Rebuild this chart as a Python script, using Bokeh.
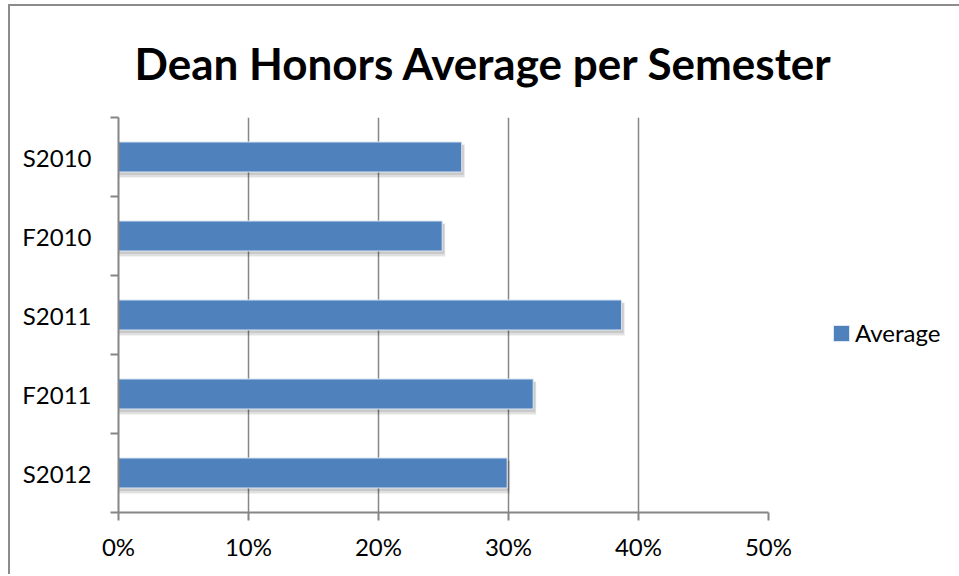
from bokeh.plotting import figure
from bokeh.models import (Range1d, FixedTicker, NumeralTickFormatter, Legend, LegendItem,
                          ColumnDataSource, Title)
from bokeh.embed import file_html
from bokeh.resources import INLINE

# ---- data ----
categories = ["S2010", "F2010", "S2011", "F2011", "S2012"]
average = [0.264, 0.249, 0.387, 0.319, 0.299]
x_ticks = [0.0, 0.1, 0.2, 0.3, 0.4, 0.5]
title_text = "Dean Honors Average per Semester"
series_name = "Average"

n = len(categories)
ys = [n - i - 0.5 for i in range(n)]  # top-to-bottom order

FONT = "Lato"
GRAY = "#868686"
BAR = "#4F81BD"

FRAME_W, FRAME_H = 650, 395
p = figure(width=950, height=570, output_backend="svg", toolbar_location=None,
           x_range=Range1d(0, 0.5), y_range=Range1d(0, n),
           frame_width=FRAME_W, frame_height=FRAME_H,
           min_border_left=110, min_border_right=190, min_border_top=113, min_border_bottom=62,
           border_fill_color=None, background_fill_color="white", outline_line_color=None)
p.styles = {"margin-left": "8px", "margin-top": "4px",
            "box-shadow": "inset 2px 2px 0 0 #8c8c8c", "background": "white"}

p.title = Title(text=title_text, text_font=FONT, text_font_style="bold", text_font_size="44px",
                align="left", offset=16, standoff=58, text_color="black")

src = ColumnDataSource(dict(y=ys, right=average, cat=categories))

# soft drop shadow (style offsets in pixels converted to data units)
px_x = 0.5 / FRAME_W
px_y = n / FRAME_H
bh = 0.38
for dx, dy, grow, a in [(3, -4, 4, 0.05), (3, -4, 2, 0.07), (2, -3, 0, 0.10)]:
    sh = ColumnDataSource(dict(y=[v + dy * px_y for v in ys],
                               right=[v + dx * px_x for v in average]))
    p.hbar(y="y", right="right", left=0, height=bh + grow * px_y, source=sh,
           fill_color="black", fill_alpha=a, line_color=None)

bars = p.hbar(y="y", right="right", left=0, height=bh, source=src,
              fill_color=BAR, line_color="#dce6f2", line_width=1)

# axes
xa = p.xaxis[0]
xa.ticker = FixedTicker(ticks=x_ticks)
xa.formatter = NumeralTickFormatter(format="0%")
xa.axis_line_color = GRAY
xa.axis_line_width = 2
xa.major_tick_line_color = GRAY
xa.major_tick_line_width = 2
xa.major_tick_out = 8
xa.major_tick_in = 0
xa.minor_tick_line_color = None
xa.major_label_text_font = FONT
xa.major_label_text_font_size = "24px"
xa.major_label_text_color = "black"
xa.major_label_standoff = 11

ya = p.yaxis[0]
ya.ticker = FixedTicker(ticks=ys, minor_ticks=list(range(n + 1)))
ya.major_label_overrides = {y: c for y, c in zip(ys, categories)}
ya.axis_line_color = GRAY
ya.axis_line_width = 2
ya.major_tick_line_color = None
ya.minor_tick_line_color = GRAY
ya.minor_tick_line_width = 2
ya.minor_tick_out = 8
ya.minor_tick_in = 0
ya.major_label_text_font = FONT
ya.major_label_text_font_size = "24px"
ya.major_label_text_color = "black"
ya.major_label_standoff = 19

p.xgrid.ticker = FixedTicker(ticks=x_ticks)
p.xgrid.grid_line_color = GRAY
p.xgrid.grid_line_width = 1.5
p.ygrid.grid_line_color = None

legend = Legend(items=[LegendItem(label=series_name, renderers=[bars])],
                location=(63, 165), glyph_width=20, glyph_height=20, label_standoff=4,
                padding=0, margin=0, spacing=0, border_line_color=None,
                background_fill_alpha=0, label_text_font=FONT, label_text_font_size="24px",
                label_text_color="black")
p.add_layout(legend, "right")

open("out.html", "w").write(file_html(p, INLINE))
